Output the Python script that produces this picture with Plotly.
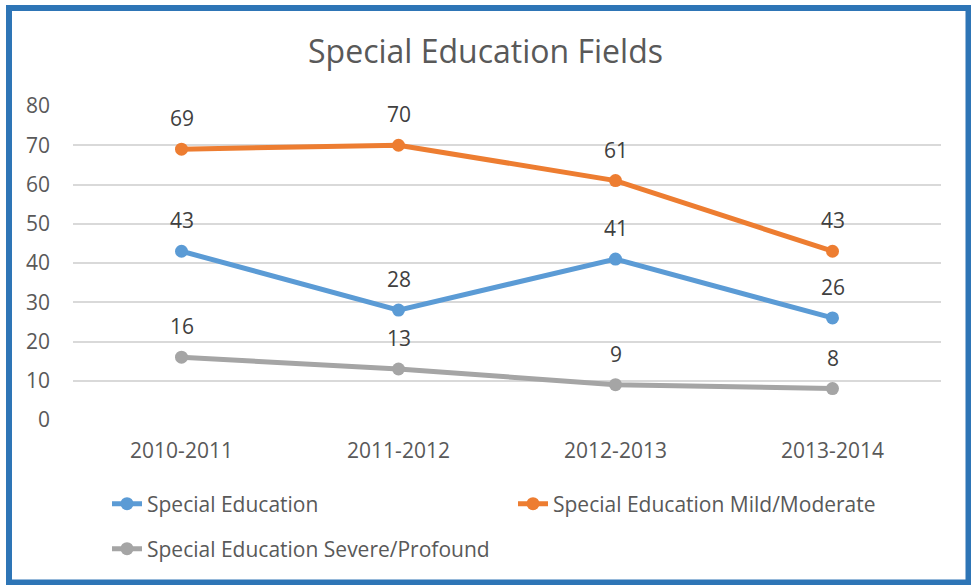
import plotly.graph_objects as go

categories = ["2010-2011", "2011-2012", "2012-2013", "2013-2014"]
special_ed = [43, 28, 41, 26]
mild_moderate = [69, 70, 61, 43]
severe_profound = [16, 13, 9, 8]
series_names = ["Special Education", "Special Education Mild/Moderate", "Special Education Severe/Profound"]
colors = ["#5B9BD5", "#ED7D31", "#A5A5A5"]
y_ticks = [0, 10, 20, 30, 40, 50, 60, 70, 80]

W, H = 971, 585
L, R, T, B = 73, 30, 106, 165
pw, ph = W - L - R, H - T - B
FONT = "Open Sans"
FS = 21

fig = go.Figure()
all_series = [special_ed, mild_moderate, severe_profound]
legends = ["legend", "legend2", "legend3"]
for name, vals, col, lg in zip(series_names, all_series, colors, legends):
    fig.add_trace(go.Scatter(
        x=categories, y=vals, name=name, mode="lines+markers",
        line=dict(color=col, width=5), marker=dict(color=col, size=13),
        legend=lg,
    ))

annotations = []
for vals in all_series:
    for c, v in zip(categories, vals):
        annotations.append(dict(x=c, y=v, text=str(v), showarrow=False, yshift=31,
                                font=dict(family=FONT, size=FS, color="#404040")))

def px_to_paper_x(p):
    return (p - L) / pw

def px_to_paper_y(p):
    return (H - B - p) / ph

border = dict(type="rect", xref="paper", yref="paper",
              x0=px_to_paper_x(9), x1=px_to_paper_x(968.5),
              y0=px_to_paper_y(582.5), y1=px_to_paper_y(8),
              line=dict(color="#2E75B6", width=6), fillcolor="rgba(0,0,0,0)", layer="above")

def leg(xpx, ypx):
    return dict(orientation="h", x=px_to_paper_x(xpx), xanchor="left",
                y=px_to_paper_y(ypx), yanchor="middle",
                font=dict(family=FONT, size=FS, color="#595959"), bgcolor="rgba(0,0,0,0)")

fig.update_layout(
    width=W, height=H,
    margin=dict(l=L, r=R, t=T, b=B),
    paper_bgcolor="white", plot_bgcolor="white",
    title=dict(text="Special Education Fields", x=0.5, xref="container", xanchor="center",
               y=1 - 52 / H, yanchor="middle",
               font=dict(family=FONT, size=32, color="#595959")),
    xaxis=dict(type="category", range=[-0.5, 3.5], showgrid=False, zeroline=False,
               showline=False, ticks="", ticklabelstandoff=16,
               tickfont=dict(family=FONT, size=FS, color="#595959")),
    yaxis=dict(range=[0, 80], tickvals=y_ticks, showgrid=True, gridcolor="#D9D9D9",
               gridwidth=2, zeroline=False, showline=False, ticks="", ticklabelstandoff=22,
               tickfont=dict(family=FONT, size=FS, color="#595959")),
    legend=leg(107, 504),
    legend2=leg(513, 504),
    legend3=leg(107, 549),
    annotations=annotations,
    shapes=[border],
    showlegend=True,
)

fig.write_html("out.html")
